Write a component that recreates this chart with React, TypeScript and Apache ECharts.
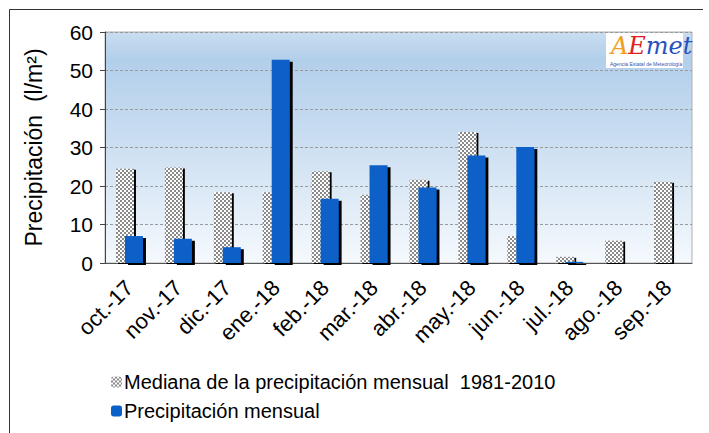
import React, { useEffect, useRef } from "react";
import * as echarts from "echarts";

const categories = ["oct.-17", "nov.-17", "dic.-17", "ene.-18", "feb.-18", "mar.-18", "abr.-18", "may.-18", "jun.-18", "jul.-18", "ago.-18", "sep.-18"];
const medianValues = [24.5, 24.8, 18.4, 18.4, 23.8, 17.7, 21.6, 34.0, 7.0, 1.6, 5.8, 21.1];
const monthlyValues: (number | null)[] = [7.0, 6.3, 4.1, 52.8, 16.7, 25.4, 19.6, 27.9, 30.1, 0.3, null, null];
const yTicks = { min: 0, max: 60, interval: 10 };

function makeChecker(): HTMLCanvasElement {
  const c = document.createElement("canvas");
  c.width = 4;
  c.height = 4;
  const ctx = c.getContext("2d")!;
  ctx.fillStyle = "#ffffff";
  ctx.fillRect(0, 0, 4, 4);
  ctx.fillStyle = "#8a8a8a";
  ctx.fillRect(0, 0, 2, 2);
  ctx.fillRect(2, 2, 2, 2);
  return c;
}

export default function App() {
  const ref = useRef<HTMLDivElement>(null);
  useEffect(() => {
    if (!ref.current) return;
    const chart = echarts.init(ref.current, undefined, { renderer: "svg" });
    const font = "Liberation Sans, Arial, sans-serif";
    const checker = makeChecker();
    chart.setOption({
      animation: false,
      backgroundColor: "#ffffff",
      textStyle: { fontFamily: font },
      grid: {
        left: 105,
        right: 17,
        top: 32,
        bottom: 170,
        show: true,
        borderColor: "#b0b0b0",
        borderWidth: 1,
        backgroundColor: new echarts.graphic.LinearGradient(0, 0, 0, 1, [
          { offset: 0, color: "#c9ddf0" },
          { offset: 0.12, color: "#b2cfea" },
          { offset: 0.45, color: "#c9ddf1" },
          { offset: 1, color: "#f5f9fd" },
        ]),
      },
      legend: {
        orient: "vertical",
        left: 106,
        top: 367,
        itemWidth: 11,
        itemHeight: 11,
        itemGap: 9,
        textStyle: { fontSize: 20, color: "#000", fontFamily: font, padding: [0, 0, 0, -3] },
        data: ["Mediana de la precipitación mensual  1981-2010", "Precipitación mensual"],
      },
      xAxis: {
        type: "category",
        data: categories,
        axisLine: { lineStyle: { color: "#555", width: 1 } },
        axisTick: { length: 5, lineStyle: { color: "#555" } },
        axisLabel: { rotate: 45, fontSize: 22, color: "#000", margin: 21, fontFamily: font },
      },
      yAxis: {
        type: "value",
        min: yTicks.min,
        max: yTicks.max,
        interval: yTicks.interval,
        name: "Precipitación  (l/m²)",
        nameLocation: "middle",
        nameGap: 60,
        nameTextStyle: { fontSize: 23, color: "#000", fontFamily: font },
        axisLine: { show: true, lineStyle: { color: "#444", width: 1 } },
        axisTick: { show: true, length: 5, lineStyle: { color: "#444" } },
        axisLabel: { fontSize: 21, color: "#000", margin: 12, fontFamily: font },
        splitLine: { lineStyle: { color: "#9a9a9a", type: [3, 2], width: 1 } },
      },
      series: [
        {
          name: "Mediana de la precipitación mensual  1981-2010",
          type: "bar",
          data: medianValues,
          barWidth: 18,
          barGap: "-50%",
          itemStyle: {
            color: { image: checker, repeat: "repeat" },
            shadowColor: "#000",
            shadowOffsetX: 2,
            shadowOffsetY: 1,
            shadowBlur: 0,
          },
        },
        {
          name: "Precipitación mensual",
          type: "bar",
          data: monthlyValues,
          barWidth: 18,
          itemStyle: {
            color: "#0a60c8",
            shadowColor: "#000",
            shadowOffsetX: 3,
            shadowOffsetY: 2,
            shadowBlur: 0,
          },
        },
      ],
      graphic: [
        { type: "line", shape: { x1: 9.5, y1: 9.5, x2: 703, y2: 9.5 }, style: { stroke: "#333", lineWidth: 1 } },
        { type: "line", shape: { x1: 9.5, y1: 9.5, x2: 9.5, y2: 433 }, style: { stroke: "#333", lineWidth: 1 } },
        {
          type: "group",
          left: 606,
          top: 33,
          children: [
            { type: "rect", shape: { x: 0, y: 0, width: 77, height: 35 }, style: { fill: "#ffffff" } },
            {
              type: "text",
              x: 5,
              y: 1,
              style: {
                text: "{a|A}{e|E}{m|met}",
                rich: {
                  a: { fontSize: 24, fill: "#f0a020", fontFamily: "DejaVu Serif", fontStyle: "italic" },
                  e: { fontSize: 24, fill: "#e02020", fontFamily: "DejaVu Serif", fontStyle: "italic" },
                  m: { fontSize: 24, fill: "#2a4fc0", fontFamily: "DejaVu Serif", fontStyle: "italic" },
                },
              },
            },
            {
              type: "text",
              x: 4,
              y: 28,
              style: { text: "Agencia Estatal de Meteorología", fontSize: 5, fill: "#3355aa", fontFamily: font },
            },
          ],
        },
      ],
    });
    return () => chart.dispose();
  }, []);
  return <div ref={ref} style={{ width: 709, height: 433, position: "absolute", left: 0, top: 0 }} />;
}
